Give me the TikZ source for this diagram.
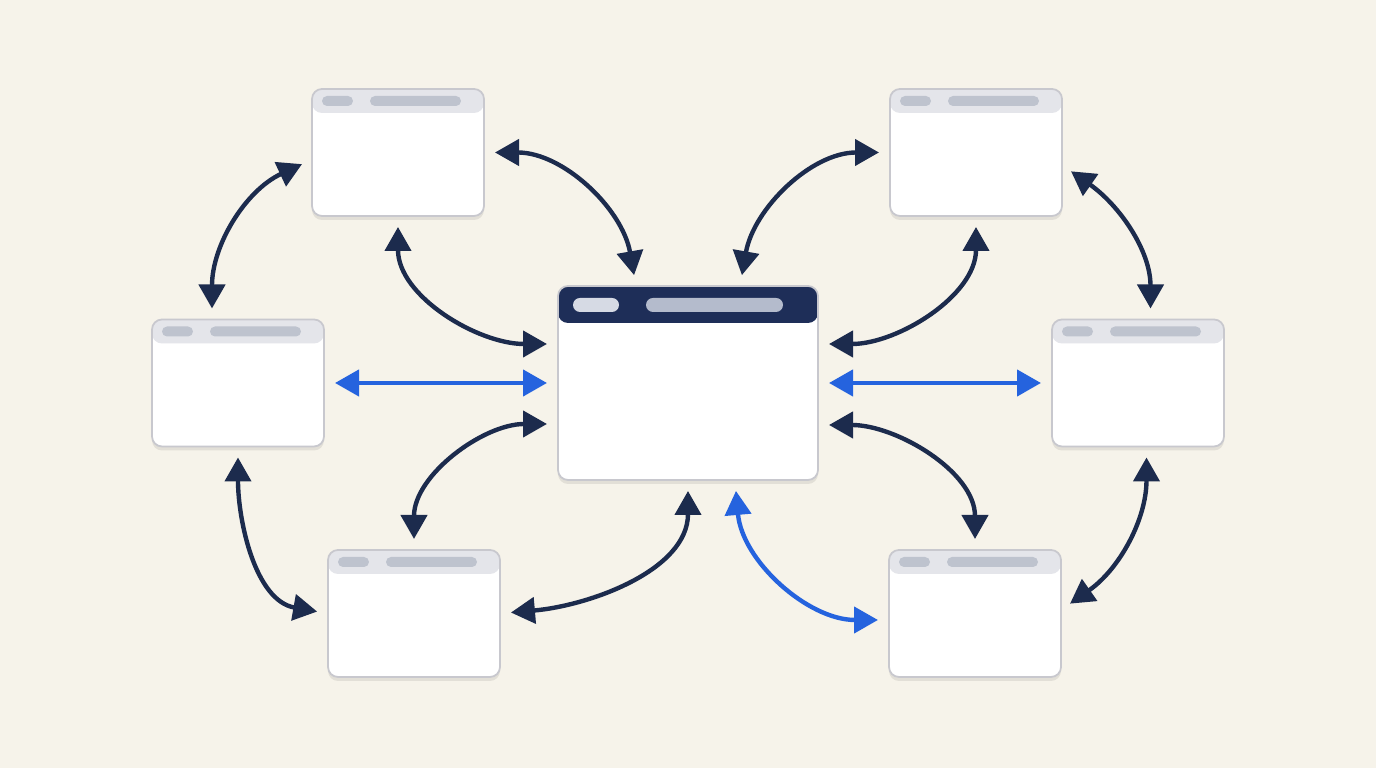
\documentclass[tikz,border=0pt]{standalone}
\usepackage{tikz}
\usetikzlibrary{arrows.meta,positioning,shadows}

\definecolor{paper}{HTML}{F6F3EA}
\definecolor{navy}{HTML}{1C2B4D}
\definecolor{linkblue}{HTML}{2563DE}
\definecolor{frame}{HTML}{C8C8CE}
\definecolor{bar}{HTML}{E4E5EA}
\definecolor{pill}{HTML}{BEC3CE}
\definecolor{mainbar}{HTML}{1E2E58}
\definecolor{mainpillA}{HTML}{D6DAE4}
\definecolor{mainpillB}{HTML}{B4BBCC}

\begin{document}
\begin{tikzpicture}[<->,>={Triangle[length=0.24cm,width=0.26cm]},shorten >=0.11cm,shorten <=0.11cm,line width=1.25pt,navy]
	\tikzset{
		window/.style={draw=frame,line width=0.5pt,fill=white,rounded corners=0.1cm,
			minimum width=1.72cm,minimum height=1.27cm,inner sep=0pt,outer sep=0pt,
			drop shadow={shadow xshift=0pt,shadow yshift=-0.04cm,opacity=0.08,fill=black},
			path picture={
				\fill[bar] (path picture bounding box.north west) rectangle ([yshift=-0.24cm]path picture bounding box.north east);
				\fill[pill,rounded corners=0.05cm] ([shift={(0.10cm,-0.07cm)}]path picture bounding box.north west) rectangle ([shift={(0.41cm,-0.17cm)}]path picture bounding box.north west);
				\fill[pill,rounded corners=0.05cm] ([shift={(0.58cm,-0.07cm)}]path picture bounding box.north west) rectangle ([shift={(1.49cm,-0.17cm)}]path picture bounding box.north west);
			}},
		mainwindow/.style={window,minimum width=2.60cm,minimum height=1.94cm,
			path picture={
				\fill[mainbar] (path picture bounding box.north west) rectangle ([yshift=-0.37cm]path picture bounding box.north east);
				\fill[mainpillA,rounded corners=0.07cm] ([shift={(0.15cm,-0.12cm)}]path picture bounding box.north west) rectangle ([shift={(0.61cm,-0.26cm)}]path picture bounding box.north west);
				\fill[mainpillB,rounded corners=0.07cm] ([shift={(0.88cm,-0.12cm)}]path picture bounding box.north west) rectangle ([shift={(2.25cm,-0.26cm)}]path picture bounding box.north west);
			}}
	}
	\fill[paper] (0,0) rectangle (13.76,7.68);
	\useasboundingbox (0,0) rectangle (13.76,7.68);

	\node[mainwindow] (C) at (6.88,3.85) {};
	\node[window] (TL) [above left=0.7cm and 0.74cm of C] {};
	\node[window] (TR) [above right=0.7cm and 0.72cm of C] {};
	\node[window] (ML) [left=2.34cm of C] {};
	\node[window] (MR) [right=2.34cm of C] {};
	\node[window] (BL) [below left=0.7cm and 0.58cm of C] {};
	\node[window] (BR) [below right=0.7cm and 0.71cm of C] {};

	\path
		([yshift=-0.07cm]TL.west)
			edge [out=205,in=90] ([xshift=-0.26cm]ML.north)
		(TL.east)
			edge [out=0,in=100] ([xshift=-0.52cm]C.north)
		(TL.south)
			edge [out=270,in=180] ([yshift=0.39cm]C.west)
		(ML.east)
			edge [linkblue] (C.west)
		([yshift=-0.41cm]C.west)
			edge [out=180,in=90] (BL.north)
		(ML.south)
			edge [out=270,in=170] (BL.west)
		(BL.east)
			edge [out=5,in=270] (C.south)
		([xshift=0.47cm]C.south)
			edge [linkblue,out=275,in=180] ([yshift=-0.065cm]BR.west)
		([yshift=0.035cm]BR.east)
			edge [out=35,in=270] ([xshift=0.085cm]MR.south)
		(C.east)
			edge [linkblue] (MR.west)
		([yshift=-0.42cm]C.east)
			edge [out=0,in=90] (BR.north)
		(TR.west)
			edge [out=180,in=80] ([xshift=0.52cm]C.north)
		([yshift=0.39cm]C.east)
			edge [out=0,in=270] (TR.south)
		([yshift=-0.125cm]TR.east)
			edge [out=-35,in=90] ([xshift=0.125cm]MR.north);
\end{tikzpicture}
\end{document}
